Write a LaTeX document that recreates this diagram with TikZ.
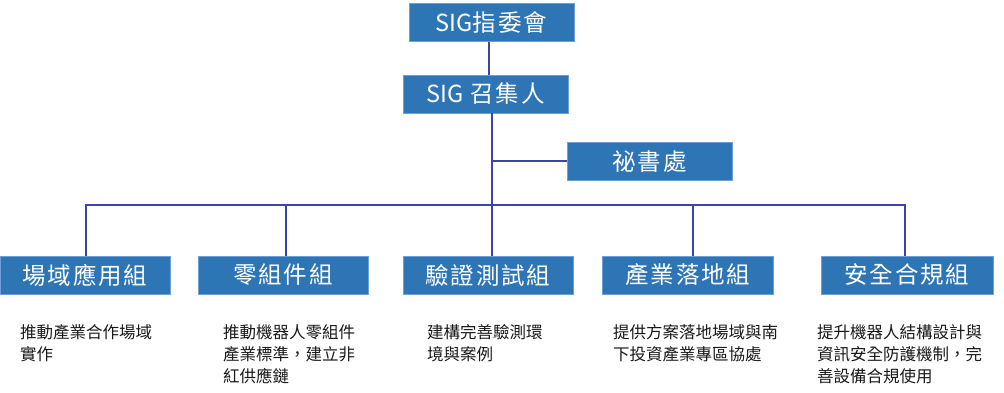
\documentclass[tikz,border=0pt]{standalone}
\usepackage{fontspec}
\newfontfamily\cjk{Noto Sans CJK TC}
\newfontfamily\boxfont[LetterSpace=8]{Noto Sans CJK TC}
\newfontfamily\sigfont{Noto Sans CJK TC}
\definecolor{boxfill}{RGB}{46,117,182}
\definecolor{boxedge}{RGB}{110,160,215}
\definecolor{linkc}{RGB}{60,68,168}
\definecolor{desc}{RGB}{25,25,25}
\begin{document}
\begin{tikzpicture}[x=1pt,y=-1pt,
  orgbox/.style={draw=boxedge,line width=0.8pt,fill=boxfill,text=white,
    inner sep=0pt,minimum height=38pt,
    font=\boxfont\fontsize{23.5}{24}\selectfont},
  link/.style={draw=linkc,line width=2pt},
  desctext/.style={anchor=north west,inner sep=0pt,align=left,text=desc,
    font=\cjk\fontsize{16.5}{22}\selectfont}]
\useasboundingbox (0,0) rectangle (1004,393);
% top level
\node[orgbox,minimum width=165pt] (comm) at (491.5,22.5) {{\sigfont SIG}指委會};
\node[orgbox,minimum width=165pt] (conv) at (485.5,94) {{\sigfont SIG} 召集人};
\node[orgbox,minimum width=165pt] (secr) at (649.5,161.5) {祕書處};
% groups
\node[orgbox,minimum width=170pt] (g1) at (85,275) {場域應用組};
\node[orgbox,minimum width=170pt] (g2) at (283,275) {零組件組};
\node[orgbox,minimum width=170pt] (g3) at (488,275) {驗證測試組};
\node[orgbox,minimum width=171pt] (g4) at (688,275) {產業落地組};
\node[orgbox,minimum width=172pt] (g5) at (907,275) {安全合規組};
% bus coordinates
\coordinate (busL) at (86,204.5);
\coordinate (busR) at (905,204.5);
\coordinate (busM) at (492,204.5);
\coordinate (secj) at (492,161.5);
% connectors
\draw[link] ([xshift=-2.5pt]comm.south) -- ([xshift=3.5pt]conv.north);
\draw[link] ([xshift=6.5pt]conv.south) -- (busM);
\draw[link] (secj) -- (secr.west);
\draw[link] ([xshift=1pt]g1.north) -- (busL) -- (busR) -- ([xshift=-2pt]g5.north);
\draw[link] ([xshift=3pt]g2.north) -- ([xshift=3pt]g2.north |- busL);
\draw[link] ([xshift=4pt]g3.north) -- (busM);
\draw[link] ([xshift=5pt]g4.north) -- ([xshift=5pt]g4.north |- busL);
% descriptions
\node[desctext] (d1) at (20,324) {推動產業合作場域\\實作};
\node[desctext] (d2) at (223,324) {推動機器人零組件\\產業標準，建立非\\紅供應鏈};
\node[desctext] (d3) at (427,324) {建構完善驗測環\\境與案例};
\node[desctext] (d4) at (613,324) {提供方案落地場域與南\\下投資產業專區協處};
\node[desctext] (d5) at (817,324) {提升機器人結構設計與\\資訊安全防護機制，完\\善設備合規使用};
\end{tikzpicture}
\end{document}
